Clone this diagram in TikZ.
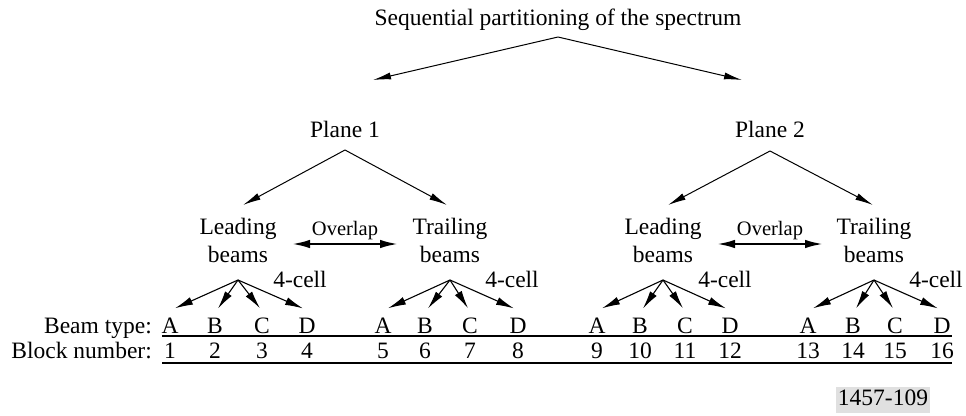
\documentclass[tikz,border=0pt]{standalone}
\usepackage{fontspec}
\setmainfont{Liberation Serif}
\usetikzlibrary{arrows.meta}
\begin{document}
\begin{tikzpicture}[x=1pt,y=-1pt,
  txt/.style={inner sep=0pt, anchor=base, font=\fontsize{23.5}{28}\selectfont, align=center},
  small/.style={inner sep=0pt, anchor=base, font=\fontsize{20.5}{24}\selectfont},
  arr/.style={-{Latex[length=18pt,width=7pt]}, line width=1pt},
  sarr/.style={-{Latex[length=18pt,width=8pt]}, line width=1.1pt},
  dbl/.style={{Latex[length=18pt,width=8.5pt]}-{Latex[length=18pt,width=8.5pt]}, line width=2.2pt},
  rulel/.style={line width=2.4pt},
  tag/.style={inner xsep=2pt, inner ysep=2.5pt, text height=16pt, text depth=5pt, anchor=base, font=\fontsize{23.5}{28}\selectfont, fill=black!12}]
\useasboundingbox (0,0) rectangle (966,415);
% title and planes
\node[txt] (title) at (558,25) {Sequential partitioning of the spectrum};
\coordinate (top) at (558,37);
\coordinate (p1t) at (373,80);
\coordinate (p2t) at (742,80);
\draw[arr] (top) -- (p1t);
\draw[arr] (top) -- (p2t);
\node[txt] (plane1) at (345,137) {Plane 1};
\node[txt] (plane2) at (770,137) {Plane 2};
\coordinate (pa1) at (345,150);
\coordinate (pa2) at (770,151);
% leading / trailing
\foreach \n/\x in {1/238,2/450,3/663,4/874}{
  \coordinate (ga\n) at (\x,280);
}
\node[txt] (lead1) at (238,262) {Leading\\beams};
\node[txt] (trail1) at (450,262) {Trailing\\beams};
\node[txt] (lead2) at (663,262) {Leading\\beams};
\node[txt] (trail2) at (874,262) {Trailing\\beams};
\coordinate (l1t) at (243,205);
\coordinate (t1t) at (447,205);
\coordinate (l2t) at (668,205);
\coordinate (t2t) at (873,205);
\draw[arr] (pa1) -- (l1t);
\draw[arr] (pa1) -- (t1t);
\draw[arr] (pa2) -- (l2t);
\draw[arr] (pa2) -- (t2t);
% overlap
\node[small] (ov1) at (345,235) {Overlap};
\node[small] (ov2) at (770,235) {Overlap};
\coordinate (ov1l) at (292,244);
\coordinate (ov1r) at (398,244);
\coordinate (ov2l) at (717,244);
\coordinate (ov2r) at (823,244);
\draw[dbl] (ov1l) -- (ov1r);
\draw[dbl] (ov2l) -- (ov2r);
% 4-cell labels
\node[txt] (c1) at (300,287) {4-cell};
\node[txt] (c2) at (512,287) {4-cell};
\node[txt] (c3) at (725,287) {4-cell};
\node[txt] (c4) at (936,287) {4-cell};
% beam types and block numbers
\node[txt, anchor=base east] (bt) at (152,333) {Beam type:};
\node[txt, anchor=base east] (bn) at (152,358) {Block number:};
\foreach \g/\xa/\xb/\xc/\xd in {1/170/215/262/307,2/383/425/470/518,3/597/640/685/730,4/808/853/895/942}{
  \node[txt] (A\g) at (\xa,333) {A};
  \node[txt] (B\g) at (\xb,333) {B};
  \node[txt] (C\g) at (\xc,333) {C};
  \node[txt] (D\g) at (\xd,333) {D};
  \draw[sarr] (ga\g) -- ([xshift=5pt,yshift=9pt]A\g.north);
  \draw[sarr] (ga\g) -- ([xshift=3pt,yshift=9pt]B\g.north);
  \draw[sarr] (ga\g) -- ([xshift=-2pt,yshift=9pt]C\g.north);
  \draw[sarr] (ga\g) -- ([xshift=-4pt,yshift=9pt]D\g.north);
}
\foreach \k/\x in {1/170,2/215,3/262,4/307,5/383,6/425,7/470,8/518,9/597,10/640,11/685,12/730,13/808,14/853,15/895,16/942}{
  \node[txt] (n\k) at (\x,358) {\k};
}
\coordinate (r1l) at (162,336);
\coordinate (r1r) at (952,336);
\coordinate (r2l) at (162,363);
\coordinate (r2r) at (952,363);
\draw[rulel] (r1l) -- (r1r);
\draw[rulel] (r2l) -- (r2r);
% figure tag
\node[tag] (fig) at (883,405) {1457-109};
\end{tikzpicture}
\end{document}
